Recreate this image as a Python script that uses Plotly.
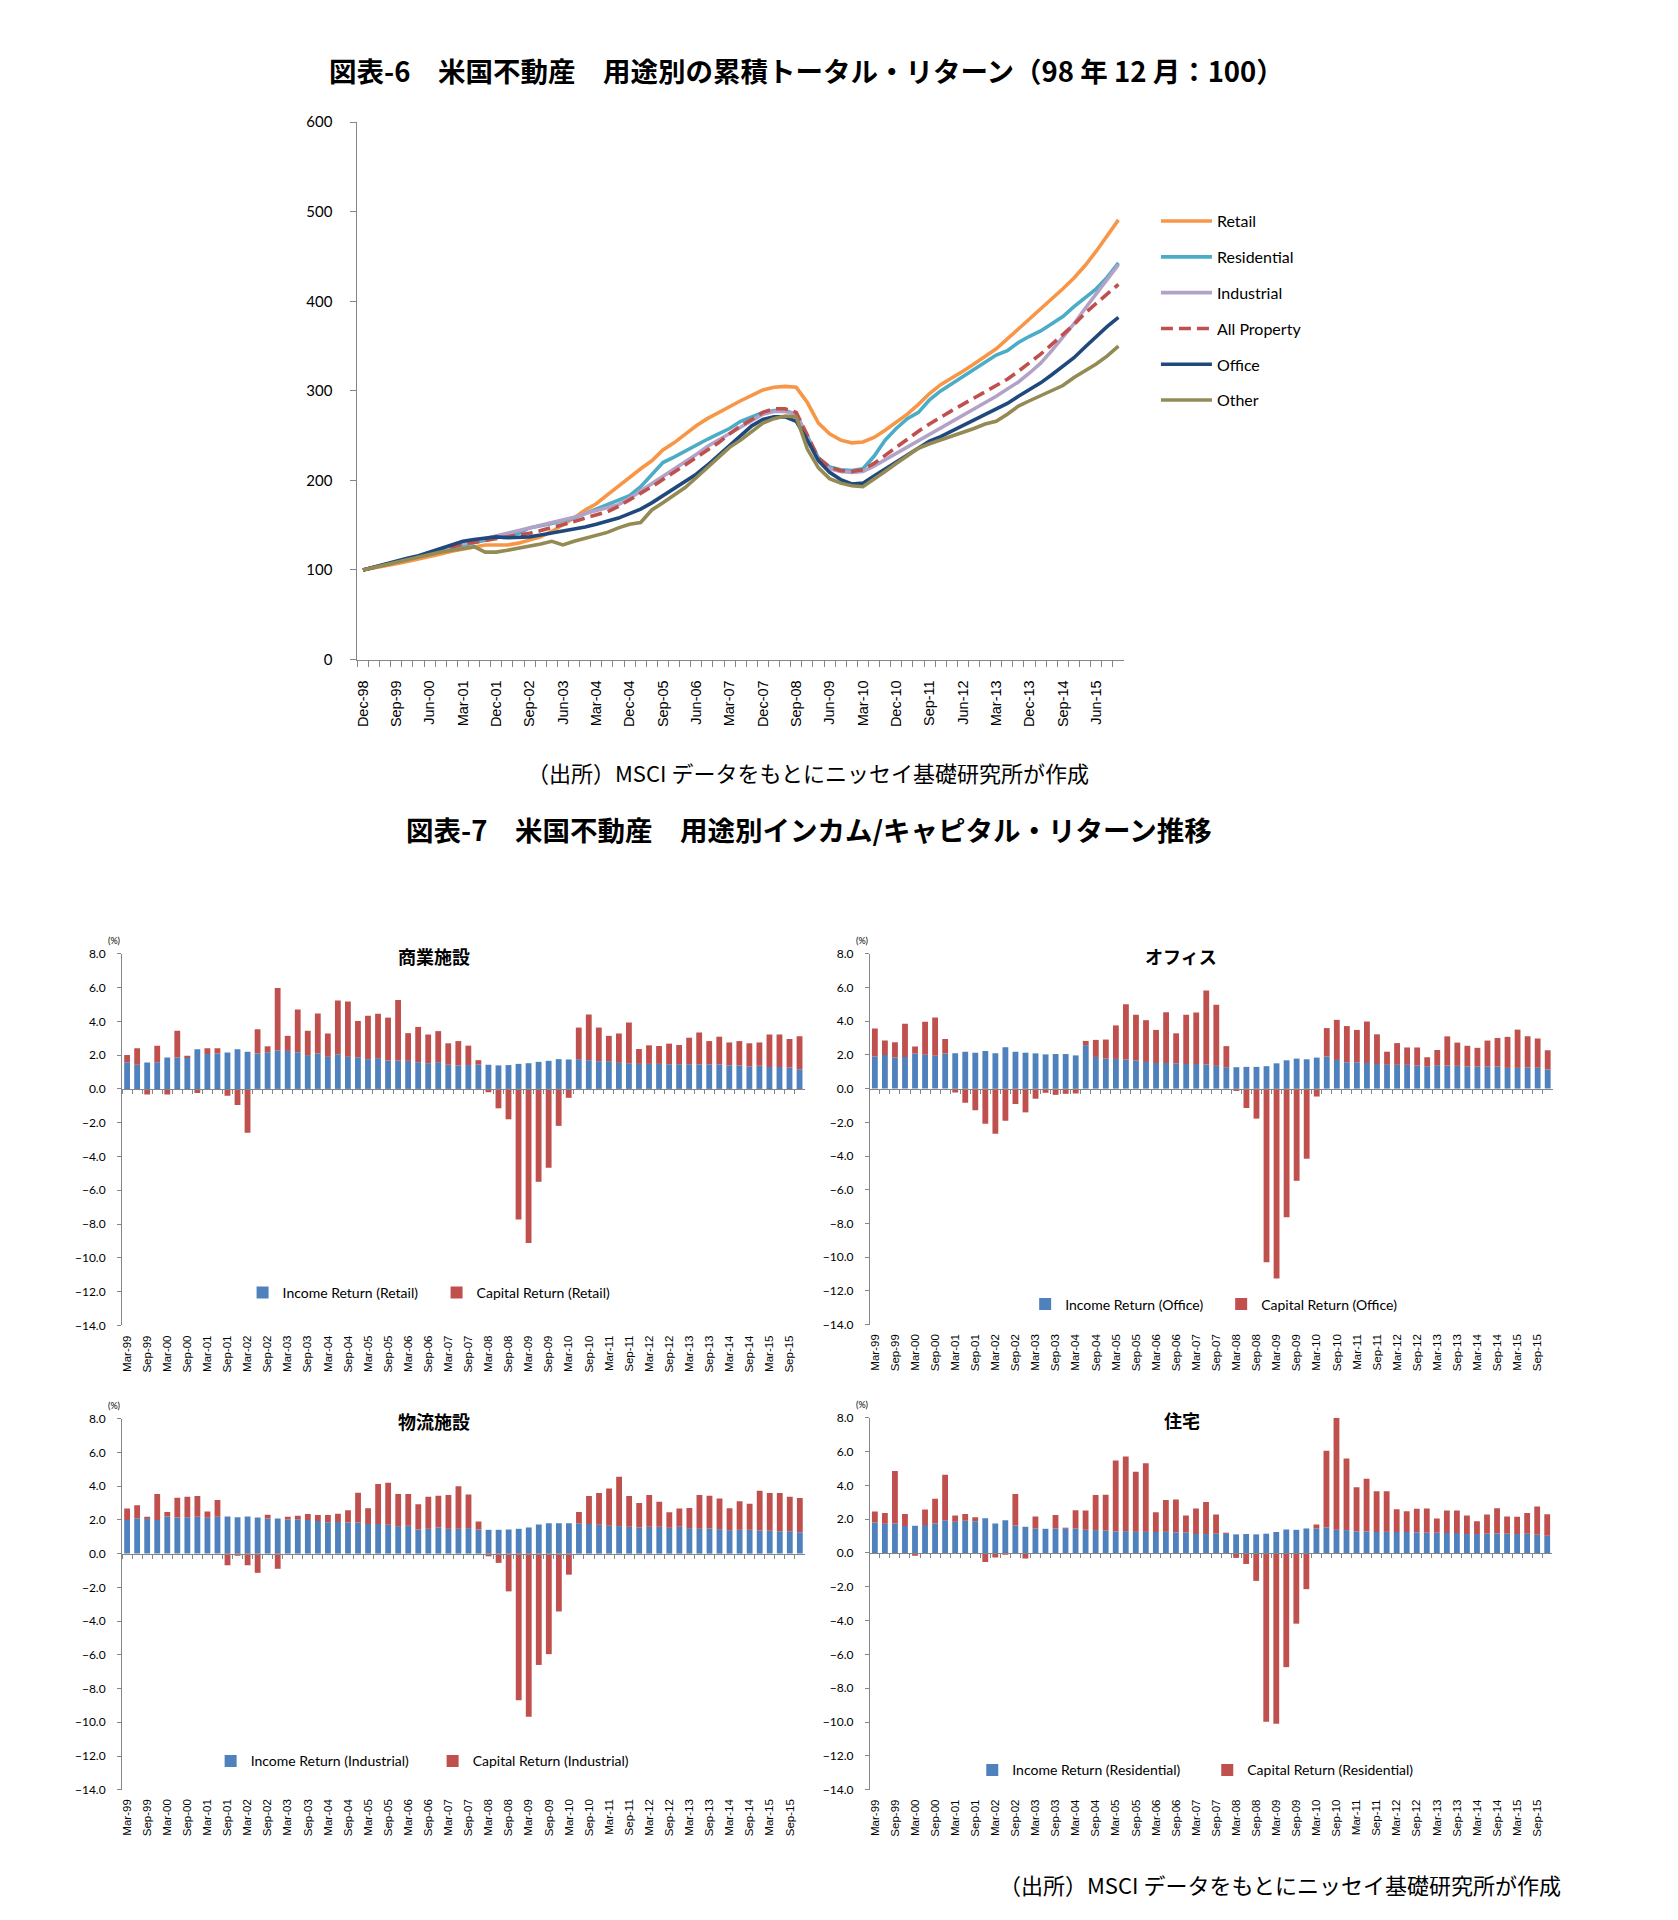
import plotly.graph_objects as go

W, H = 1678, 1920

# ---------------- categories ----------------
years = ["99", "00", "01", "02", "03", "04", "05", "06", "07", "08",
         "09", "10", "11", "12", "13", "14", "15"]
months = ["Mar", "Jun", "Sep", "Dec"]
bar_quarters = [f"{m}-{y}" for y in years for m in months]
line_quarters = ["Dec-98"] + bar_quarters
line_tick_labels = line_quarters[::3]
bar_tick_labels = [q for q in bar_quarters if q[:3] in ("Mar", "Sep")]

# ---------------- cumulative total return index (Dec-98 = 100) ----------------
retail = [100, 102, 104.5, 107, 109.5, 112, 115, 118, 121, 123, 126, 128, 128, 128, 130, 133,
          137, 143, 150, 158, 167, 174, 184, 194, 203, 213, 222, 234, 242, 252, 261, 269,
          276, 283, 289, 295, 301, 304, 305, 304, 287, 264, 252, 245, 242, 243, 248, 256,
          265, 274, 285, 297, 307, 314, 322, 330, 338, 347, 358, 369, 380, 391, 402, 414,
          426, 440, 456, 473, 491]
residential = [100, 103, 105.5, 108, 112, 115, 118, 122, 125, 128, 131, 134, 136, 138, 141, 147,
               149, 152, 155, 158, 163, 168, 172, 177, 183, 193, 207, 220, 226, 233, 240, 246,
               252, 258, 266, 271, 276, 278, 278, 274, 250, 225, 215, 212, 211, 213, 227, 245,
               258, 269, 276, 290, 300, 308, 316, 323, 331, 340, 345, 354, 361, 367, 375, 383,
               394, 404, 414, 427, 443]
industrial = [100, 103, 106, 109, 112, 115, 118, 122, 126, 129, 132, 135, 138, 141, 143, 146,
              150, 153, 156, 159, 163, 166, 169, 173, 180, 188, 196, 204, 212, 220, 229, 238,
              245, 253, 260, 267, 274, 277, 277, 274, 248, 222, 213, 210, 209, 210, 216, 223,
              231, 238, 245, 252, 259, 266, 273, 280, 287, 294, 302, 310, 320, 331, 345, 360,
              375, 392, 408, 424, 441]
all_property = [100, 103, 106, 109, 112, 115, 118, 122, 126, 129, 131, 133, 134, 136, 138, 141,
                144, 147, 151, 154, 158, 162, 165, 171, 178, 185, 193, 201, 209, 217, 225, 234,
                242, 252, 261, 268, 276, 280, 280, 276, 250, 225, 215, 211, 210, 212, 219, 228,
                238, 247, 255, 263, 271, 278, 285, 292, 299, 305, 313, 322, 331, 341, 352, 363,
                374, 387, 398, 409, 419]
office = [100, 103, 106, 109, 113, 116, 120, 125, 129, 132, 134, 136, 137, 136, 136, 137,
          139, 141, 143, 145, 148, 151, 154, 158, 163, 168, 175, 183, 190, 198, 207, 217,
          228, 239, 250, 261, 268, 271, 271, 266, 245, 222, 209, 201, 196, 197, 205, 213,
          221, 229, 237, 244, 249, 255, 261, 267, 273, 279, 286, 294, 301, 309, 318, 327,
          337, 349, 361, 372, 382]
other = [100, 103, 106, 108, 112, 114, 117, 120, 122, 124, 126, 120, 120, 122, 124, 127,
         129, 132, 128, 132, 135, 138, 142, 147, 151, 153, 167, 175, 184, 192, 203, 214,
         226, 237, 245, 255, 264, 269, 272, 271, 235, 214, 202, 197, 194, 193, 201, 210,
         219, 227, 236, 241, 245, 250, 253, 258, 263, 266, 274, 283, 289, 295, 300, 306,
         315, 322, 330, 339, 350]

line_names = ["Retail", "Residential", "Industrial", "All Property", "Office", "Other"]
line_values = [retail, residential, industrial, all_property, office, other]
line_colors = ["#F79646", "#4BACC6", "#B3A2C7", "#C0504D", "#1F497D", "#948A54"]
line_dash = ["solid", "solid", "solid", "12px,6px", "solid", "solid"]

# ---------------- quarterly income / capital returns (%) ----------------
retail_income = [1.58, 1.43, 1.56, 1.58, 1.86, 1.86, 1.90, 2.34, 2.07, 2.10,
                 2.15, 2.34, 2.20, 2.10, 2.17, 2.28, 2.25, 2.17, 2.00, 2.10,
                 1.90, 2.05, 1.90, 1.87, 1.76, 1.82, 1.68, 1.68, 1.66, 1.58,
                 1.52, 1.58, 1.43, 1.39, 1.41, 1.44, 1.43, 1.39, 1.41, 1.48,
                 1.52, 1.60, 1.66, 1.76, 1.74, 1.76, 1.70, 1.64, 1.64, 1.54,
                 1.52, 1.48, 1.48, 1.48, 1.46, 1.46, 1.46, 1.44, 1.44, 1.44,
                 1.39, 1.39, 1.33, 1.37, 1.29, 1.29, 1.27, 1.17]
retail_capital = [0.42, 0.97, -0.33, 0.98, -0.33, 1.58, 0.02, -0.25, 0.33, 0.30,
                  -0.40, -0.96, -2.60, 1.43, 0.35, 3.70, 0.89, 2.53, 1.44, 2.37,
                  1.38, 3.18, 3.27, 2.15, 2.57, 2.63, 2.54, 3.59, 1.64, 2.09,
                  1.70, 1.84, 1.27, 1.44, 1.15, 0.26, -0.20, -1.15, -1.80, -7.73,
                  -9.13, -5.50, -4.67, -2.19, -0.53, 1.87, 2.70, 1.99, 1.50, 1.74,
                  2.41, 0.88, 1.10, 1.06, 1.22, 1.14, 1.57, 1.90, 1.39, 1.65,
                  1.36, 1.44, 1.37, 1.38, 1.93, 1.93, 1.68, 1.95]
office_income = [1.90, 2.00, 1.84, 1.88, 2.09, 2.01, 1.95, 2.09, 2.10, 2.19,
                 2.13, 2.23, 2.10, 2.46, 2.19, 2.13, 2.09, 2.03, 2.05, 2.05,
                 1.97, 2.58, 1.88, 1.78, 1.76, 1.72, 1.66, 1.58, 1.52, 1.52,
                 1.50, 1.46, 1.46, 1.43, 1.35, 1.27, 1.27, 1.29, 1.29, 1.33,
                 1.50, 1.68, 1.78, 1.74, 1.84, 1.90, 1.70, 1.56, 1.56, 1.52,
                 1.46, 1.41, 1.41, 1.41, 1.37, 1.33, 1.39, 1.37, 1.35, 1.31,
                 1.31, 1.31, 1.31, 1.23, 1.23, 1.25, 1.23, 1.13]
office_capital = [1.67, 0.85, 0.91, 1.97, 0.41, 1.95, 2.27, 0.86, -0.23, -0.84,
                  -1.29, -2.09, -2.68, -1.91, -0.92, -1.41, -0.60, -0.25, -0.37, -0.31,
                  -0.29, 0.25, 1.01, 1.13, 1.99, 3.28, 2.72, 2.48, 1.96, 3.01,
                  1.78, 2.92, 3.05, 4.39, 3.63, 1.25, -0.14, -1.15, -1.78, -10.30,
                  -11.26, -7.64, -5.47, -4.16, -0.47, 1.69, 2.38, 2.15, 1.92, 2.46,
                  1.76, 0.78, 1.29, 1.03, 1.07, 0.53, 0.90, 1.73, 1.38, 1.23,
                  1.11, 1.54, 1.69, 1.84, 2.27, 1.85, 1.74, 1.14]
industrial_income = [2.00, 2.10, 2.10, 2.00, 2.20, 2.14, 2.16, 2.18, 2.12, 2.18,
                     2.20, 2.16, 2.20, 2.14, 2.08, 2.08, 2.02, 2.04, 2.00, 1.94,
                     1.86, 1.88, 1.84, 1.84, 1.76, 1.76, 1.71, 1.63, 1.65, 1.43,
                     1.47, 1.55, 1.47, 1.47, 1.51, 1.43, 1.41, 1.41, 1.43, 1.47,
                     1.55, 1.73, 1.80, 1.80, 1.80, 1.80, 1.76, 1.71, 1.65, 1.63,
                     1.59, 1.55, 1.59, 1.59, 1.53, 1.59, 1.51, 1.47, 1.49, 1.45,
                     1.39, 1.41, 1.41, 1.37, 1.35, 1.33, 1.33, 1.27]
industrial_capital = [0.67, 0.76, 0.04, 1.53, 0.27, 1.17, 1.21, 1.23, 0.37, 1.00,
                      -0.69, -0.12, -0.69, -1.14, 0.23, -0.90, 0.16, 0.20, 0.35, 0.35,
                      0.43, 0.49, 0.73, 1.77, 0.93, 2.36, 2.49, 1.90, 1.88, 1.49,
                      1.90, 1.88, 2.00, 2.53, 2.00, 0.47, -0.16, -0.55, -2.24, -8.69,
                      -9.67, -6.60, -5.96, -3.43, -1.25, 0.67, 1.65, 1.88, 2.21, 2.92,
                      1.82, 1.45, 1.88, 1.49, 0.92, 1.08, 1.20, 2.00, 1.94, 1.82,
                      1.30, 1.69, 1.55, 2.36, 2.24, 2.26, 2.04, 2.02]
residential_income = [1.80, 1.73, 1.75, 1.59, 1.61, 1.65, 1.75, 1.94, 1.84, 1.90,
                      1.88, 2.06, 1.75, 1.94, 1.63, 1.55, 1.45, 1.43, 1.45, 1.45,
                      1.45, 1.37, 1.35, 1.33, 1.27, 1.29, 1.25, 1.25, 1.24, 1.25,
                      1.22, 1.22, 1.12, 1.12, 1.14, 1.16, 1.10, 1.12, 1.10, 1.14,
                      1.24, 1.39, 1.37, 1.45, 1.45, 1.51, 1.37, 1.35, 1.27, 1.27,
                      1.24, 1.25, 1.24, 1.24, 1.22, 1.20, 1.20, 1.18, 1.18, 1.12,
                      1.12, 1.14, 1.16, 1.14, 1.12, 1.14, 1.08, 1.02]
residential_capital = [0.65, 0.64, 3.09, 0.72, -0.16, 0.92, 1.45, 2.69, 0.38, 0.41,
                       0.24, -0.53, -0.27, -0.08, 1.86, -0.33, 0.71, 0.00, 0.79, 0.02,
                       1.08, 1.14, 2.08, 2.12, 4.20, 4.42, 3.55, 4.06, 1.17, 1.89,
                       1.94, 1.00, 1.51, 1.90, 1.13, 0.02, -0.29, -0.65, -1.65, -9.98,
                       -10.10, -6.75, -4.18, -2.14, 0.24, 4.53, 6.63, 4.24, 2.61, 3.12,
                       2.41, 2.40, 1.35, 1.23, 1.39, 1.43, 0.84, 1.33, 1.33, 1.10,
                       0.76, 1.13, 1.49, 1.02, 1.02, 1.23, 1.67, 1.27]

bar_y_ticks = [8, 6, 4, 2, 0, -2, -4, -6, -8, -10, -12, -14]

panels = [
    # en, jp, income, capital, x-left, x-right, y-top(8.0), y-bottom(-14), title x, legend text x, legend y, entry w
    ("Retail", "商業施設", retail_income, retail_capital, 119.3, 803.0, 952.7, 1327.8, 432, 280, 1295, 149),
    ("Office", "オフィス", office_income, office_capital, 868.4, 1552.5, 952.7, 1327.0, 1180, 1064, 1306.7, 151),
    ("Industrial", "物流施設", industrial_income, industrial_capital, 119.3, 803.3, 1422.0, 1796.6, 432, 248, 1768, 177),
    ("Residential", "住宅", residential_income, residential_capital, 868.4, 1552.0, 1421.0, 1796.6, 1181, 1011, 1777, 190),
]

BLUE = "#4F81BD"
RED = "#C0504D"
AX = "#868686"
JP = "Noto Sans CJK JP"
NUM = "Lato"
LAT = "Liberation Sans"


def xp(px):
    return px / W


def yp(py):
    return 1 - py / H


fig = go.Figure()

# ---------------- top line chart ----------------
for nm, vals, col, ds in zip(line_names, line_values, line_colors, line_dash):
    fig.add_trace(go.Scatter(
        x=line_quarters, y=vals, name=nm, mode="lines",
        line=dict(color=col, width=3.6, dash=ds),
        xaxis="x", yaxis="y", legend="legend", legendgroup=nm,
    ))

layout = dict(
    width=W, height=H, paper_bgcolor="white", plot_bgcolor="white",
    margin=dict(l=0, r=0, t=0, b=0), autosize=False, hovermode=False,
    barmode="relative", bargap=0.42,
    font=dict(family=NUM, color="#000000"),
    showlegend=True,
)

layout["xaxis"] = dict(
    domain=[xp(355), xp(1123)], type="category", categoryorder="array",
    categoryarray=line_quarters, range=[-0.5, len(line_quarters) - 0.5],
    tickmode="array", tickvals=line_quarters,
    ticktext=[q if q in line_tick_labels else "" for q in line_quarters],
    tickson="boundaries", ticks="outside", ticklen=6, tickcolor=AX, tickwidth=1,
    showline=True, linecolor=AX, linewidth=1, tickangle=-90,
    tickfont=dict(family=LAT, size=14.5, color="#000"), ticklabelstandoff=14,
    anchor="y", showgrid=False, zeroline=False, fixedrange=True,
)
layout["yaxis"] = dict(
    domain=[yp(655.7), yp(113.3)], range=[0, 600], tickmode="array",
    tickvals=[0, 100, 200, 300, 400, 500, 600], ticks="outside", ticklen=6,
    tickcolor=AX, showline=True, linecolor=AX, linewidth=1,
    tickfont=dict(family=NUM, size=15, color="#000"), ticklabelstandoff=15,
    showgrid=False, zeroline=False, anchor="x", fixedrange=True,
)
layout["legend"] = dict(
    x=xp(1155), y=yp(196), xanchor="left", yanchor="top", orientation="v",
    itemwidth=51,
    font=dict(family=NUM, size=16, color="#000"), tracegroupgap=12,
    bgcolor="rgba(0,0,0,0)", borderwidth=0,
)

# ---------------- bar panels ----------------
annotations = []
for k, (en, jp, inc, cap, xl, xr, yt, yb, tx, lx, ly, ew) in enumerate(panels):
    n = k + 2
    xa, ya, lg = f"x{n}", f"y{n}", f"legend{n}"
    fig.add_trace(go.Bar(
        x=bar_quarters, y=inc, name=f"Income Return ({en})", marker_color=BLUE,
        marker_line_width=0, xaxis=xa, yaxis=ya, legend=lg,
    ))
    fig.add_trace(go.Bar(
        x=bar_quarters, y=cap, name=f"Capital Return ({en})", marker_color=RED,
        marker_line_width=0, xaxis=xa, yaxis=ya, legend=lg,
    ))
    y0p, y1p = yp(yb), yp(yt)
    zero_pos = y0p + (0 - (-14)) / 22 * (y1p - y0p)
    zero_px = yb - 14 / 22 * (yb - yt)
    standoff = int(round((yb + 12) - zero_px - 4 - 6))
    layout[f"xaxis{n}"] = dict(
        domain=[xp(xl), xp(xr)], type="category", categoryorder="array",
        categoryarray=bar_quarters, range=[-0.5, len(bar_quarters) - 0.5],
        tickmode="array", tickvals=bar_quarters,
        ticktext=[q if q in bar_tick_labels else "" for q in bar_quarters],
        tickson="boundaries", ticks="outside", ticklen=4, tickcolor=AX,
        showline=True, linecolor=AX, linewidth=1, tickangle=-90,
        tickfont=dict(family=LAT, size=11.5, color="#000"),
        ticklabelstandoff=standoff, anchor="free", position=zero_pos,
        showgrid=False, zeroline=False, fixedrange=True,
    )
    layout[f"yaxis{n}"] = dict(
        domain=[y0p, y1p], range=[-14, 8], tickmode="array", tickvals=bar_y_ticks,
        tickformat=".1f", ticks="outside", ticklen=4, tickcolor=AX,
        showline=True, linecolor=AX, linewidth=1,
        tickfont=dict(family=NUM, size=12, color="#000"), ticklabelstandoff=9,
        showgrid=False, zeroline=False, anchor=xa, fixedrange=True,
    )
    layout[lg] = dict(
        x=xp(lx - 40), y=yp(ly), xanchor="left", yanchor="middle", orientation="h",
        entrywidth=ew, font=dict(family=NUM, size=14, color="#000"),
        bgcolor="rgba(0,0,0,0)", borderwidth=0,
    )
    annotations.append(dict(
        text=f"<b>{jp}</b>", x=xp(tx), y=yp(yt + 2), xref="paper", yref="paper",
        showarrow=False, xanchor="center", yanchor="middle",
        font=dict(family=JP, size=18, color="#000"),
    ))
    annotations.append(dict(
        text="(%)", x=xp(xl - 8), y=yp(yt - 13), xref="paper", yref="paper",
        showarrow=False, xanchor="center", yanchor="middle",
        font=dict(family=NUM, size=9, color="#000"),
    ))

# ---------------- titles & sources ----------------
annotations += [
    dict(text="<b>図表-6　米国不動産　用途別の累積トータル・リターン（98 年 12 月：100）</b>",
         x=xp(805), y=yp(61), xref="paper", yref="paper", showarrow=False,
         xanchor="center", yanchor="middle", font=dict(family=JP, size=27.5, color="#000")),
    dict(text="（出所）MSCI データをもとにニッセイ基礎研究所が作成",
         x=xp(806), y=yp(769), xref="paper", yref="paper", showarrow=False,
         xanchor="center", yanchor="middle", font=dict(family=JP, size=22, color="#000")),
    dict(text="<b>図表-7　米国不動産　用途別インカム/キャピタル・リターン推移</b>",
         x=xp(807), y=yp(827), xref="paper", yref="paper", showarrow=False,
         xanchor="center", yanchor="middle", font=dict(family=JP, size=27.5, color="#000")),
    dict(text="（出所）MSCI データをもとにニッセイ基礎研究所が作成",
         x=xp(1279), y=yp(1892), xref="paper", yref="paper", showarrow=False,
         xanchor="center", yanchor="middle", font=dict(family=JP, size=22, color="#000")),
]
layout["annotations"] = annotations

fig.update_layout(**layout)
fig.write_html("out.html", config={"displayModeBar": False},
               post_script="document.body.style.margin='0px';")
